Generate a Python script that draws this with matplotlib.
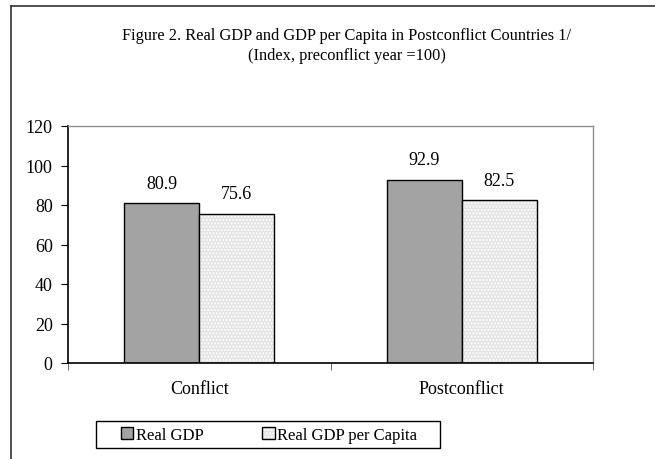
import matplotlib.pyplot as plt
import numpy as np

plt.rcParams['font.family'] = ['Liberation Serif', 'DejaVu Serif']

categories = ['Conflict', 'Postconflict']
real_gdp = [80.9, 92.9]
real_gdp_pc = [75.6, 82.5]
y_ticks = [0, 20, 40, 60, 80, 100, 120]

fig = plt.figure(figsize=(6.55, 4.6), dpi=100)

# marco exterior (izquierda y arriba)
fig.add_artist(plt.Line2D([11 / 655, 11 / 655], [0, 1 - 7 / 460], color='#333333', lw=1.2))
fig.add_artist(plt.Line2D([11 / 655, 1], [1 - 7 / 460, 1 - 7 / 460], color='#333333', lw=1.2))

ax = fig.add_axes([68 / 655, 1 - 364 / 460, 525 / 655, 237 / 460])

x = np.arange(len(categories))
w = 0.286
b1 = ax.bar(x - w / 2, real_gdp, w, color='#a3a3a3', edgecolor='black', lw=1, label='Real GDP')
b2 = ax.bar(x + w / 2, real_gdp_pc, w, color='#e4e4e4', edgecolor='black', lw=1,
            hatch='.....', label='Real GDP per Capita')
for b in b2:
    b._hatch_color = (1, 1, 1, 1)

for xi, v in zip(x - w / 2, real_gdp):
    ax.text(xi, v + 10, f'{v:.1f}', ha='center', va='center', fontsize=13)
for xi, v in zip(x + w / 2, real_gdp_pc):
    ax.text(xi, v + 10, f'{v:.1f}', ha='center', va='center', fontsize=13)

ax.set_xlim(-0.5, 1.5)
ax.set_ylim(0, 120)
ax.set_yticks(y_ticks)
ax.set_yticklabels([str(t) for t in y_ticks], fontsize=13)
ax.set_xticks(x)
ax.set_xticklabels(categories, fontsize=13)
ax.tick_params(axis='x', length=0, pad=12)
ax.set_xticks([-0.5, 0.5, 1.5], minor=True)
ax.tick_params(axis='x', which='minor', length=5, direction='out', color='#555555')
ax.tick_params(axis='y', length=5, direction='out', pad=6)

for s in ['left', 'bottom']:
    ax.spines[s].set_color('black')
    ax.spines[s].set_linewidth(1.2)
for s in ['top', 'right']:
    ax.spines[s].set_color('#909090')
    ax.spines[s].set_linewidth(1)

fig.text(347 / 655, 1 - 46 / 460,
         'Figure 2. Real GDP and GDP per Capita in Postconflict Countries 1/\n(Index, preconflict year =100)',
         ha='center', va='center', fontsize=11.8, linespacing=1.25)

# leyenda sin marco + rectángulo propio
leg = fig.legend(handles=[b1, b2], loc='center', bbox_to_anchor=(269 / 655, 1 - 436 / 460),
                 ncol=2, fontsize=12, frameon=False,
                 handlelength=0.75, handleheight=0.75, handletextpad=0.15, columnspacing=3.5,
                 borderpad=0, borderaxespad=0)
caja = plt.Rectangle((96 / 655, 1 - 449 / 460), 344 / 655, 27 / 460, transform=fig.transFigure,
                     facecolor='white', edgecolor='black', lw=1, zorder=0)
fig.add_artist(caja)

fig.savefig('out.png', dpi=100)
